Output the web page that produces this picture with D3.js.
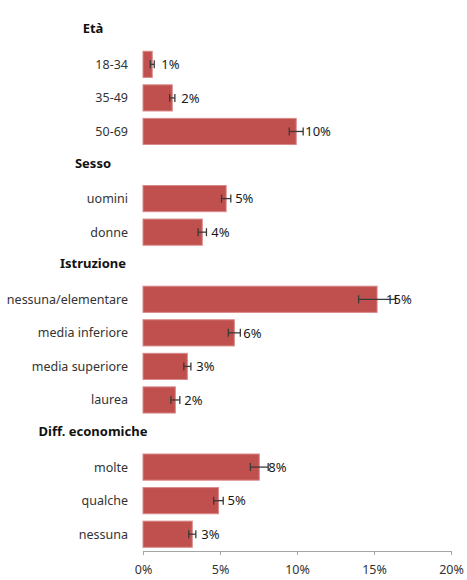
<!DOCTYPE html>
<html>
<head>
<meta charset="utf-8">
<title>Percentuali per gruppo</title>
<script src="https://cdn.jsdelivr.net/npm/d3@7"></script>
<style>
  body { margin: 0; background: #fff; }
  text { font-family: "Noto Sans", "Open Sans", sans-serif; }
</style>
</head>
<body>
<div id="chart"></div>

<script type="text/javascript">
	// data
	var groups = ["Età", "Sesso", "Istruzione", "Diff. economiche"];
	var categories = [
		["18-34", "35-49", "50-69"],
		["uomini", "donne"],
		["nessuna/elementare", "media inferiore", "media superiore", "laurea"],
		["molte", "qualche", "nessuna"]
	];
	var values = [0.6, 1.9, 9.95, 5.4, 3.85, 15.2, 5.93, 2.88, 2.1, 7.55, 4.9, 3.2];
	var errors = [0.13, 0.17, 0.45, 0.3, 0.27, 1.2, 0.39, 0.23, 0.29, 0.58, 0.31, 0.23];
	var xTicks = [0, 5, 10, 15, 20];

	var width = 467, height = 580;
	var margin = {top: 14, right: 16, bottom: 29, left: 143};

	// one row per header and per category, in order
	var rows = [], bars = [];
	var k = 0;
	groups.forEach(function(g, gi) {
		rows.push({key: "h" + gi, label: g, header: true});
		categories[gi].forEach(function(c) {
			var r = {key: "c" + k, label: c, header: false, value: values[k], err: errors[k]};
			rows.push(r);
			bars.push(r);
			k++;
		});
	});

	var svg = d3.select("#chart").append("svg")
		.attr("width", width)
		.attr("height", height);

	var x = d3.scaleLinear()
		.domain([0, 20])
		.range([margin.left, width - margin.right]);

	var y = d3.scaleBand()
		.domain(rows.map(function(d) { return d.key; }))
		.range([margin.top, height - margin.bottom])
		.paddingInner(0.22)
		.paddingOuter(0.11);

	function rowMid(d) { return y(d.key) + y.bandwidth() / 2; }

	// bars
	svg.selectAll("rect.bar").data(bars).enter().append("rect")
		.attr("class", "bar")
		.attr("x", x(0))
		.attr("y", function(d) { return y(d.key); })
		.attr("width", function(d) { return x(d.value) - x(0); })
		.attr("height", y.bandwidth())
		.style("fill", "#C0504D")
		.style("stroke", "#D9898A")
		.style("stroke-width", 1);

	// error bars
	var eb = svg.selectAll("g.err").data(bars).enter().append("g")
		.attr("class", "err")
		.style("stroke", "#3a3a3a")
		.style("stroke-width", 1.3);
	eb.append("line")
		.attr("x1", function(d) { return x(d.value - d.err); })
		.attr("x2", function(d) { return x(d.value + d.err); })
		.attr("y1", rowMid).attr("y2", rowMid);
	eb.append("line")
		.attr("x1", function(d) { return x(d.value - d.err); })
		.attr("x2", function(d) { return x(d.value - d.err); })
		.attr("y1", function(d) { return rowMid(d) - 4; })
		.attr("y2", function(d) { return rowMid(d) + 4; });
	eb.append("line")
		.attr("x1", function(d) { return x(d.value + d.err); })
		.attr("x2", function(d) { return x(d.value + d.err); })
		.attr("y1", function(d) { return rowMid(d) - 4; })
		.attr("y2", function(d) { return rowMid(d) + 4; });

	// value labels
	svg.selectAll("text.val").data(bars).enter().append("text")
		.attr("class", "val")
		.attr("x", function(d) { return x(d.value) + 9; })
		.attr("y", rowMid)
		.attr("dy", "0.36em")
		.style("font-size", "13px")
		.style("fill", "#1a1a1a")
		.text(function(d) { return Math.round(d.value) + "%"; });

	// category labels
	svg.selectAll("text.cat").data(bars).enter().append("text")
		.attr("class", "cat")
		.attr("x", margin.left - 15)
		.attr("y", rowMid)
		.attr("dy", "0.36em")
		.attr("text-anchor", "end")
		.style("font-size", "12.5px")
		.style("fill", "#333")
		.text(function(d) { return d.label; });

	// group headers
	svg.selectAll("text.head").data(rows.filter(function(d) { return d.header; })).enter().append("text")
		.attr("class", "head")
		.attr("x", 93)
		.attr("y", rowMid)
		.attr("dy", "0.2em")
		.attr("text-anchor", "middle")
		.style("font-size", "13px")
		.style("font-weight", "bold")
		.style("fill", "#111")
		.text(function(d) { return d.label; });

	// x axis
	var axis = svg.append("g")
		.attr("transform", "translate(0," + (height - margin.bottom) + ")")
		.call(d3.axisBottom(x).tickValues(xTicks).tickSize(4).tickPadding(10)
			.tickFormat(function(d) { return d + "%"; }));
	axis.select(".domain").attr("stroke", "#A6A6A6");
	axis.selectAll(".tick line").attr("stroke", "#A6A6A6");
	axis.selectAll(".tick text")
		.style("font-size", "12.5px")
		.style("font-family", "'Noto Sans', sans-serif")
		.style("fill", "#333");
</script>
</body>
</html>
